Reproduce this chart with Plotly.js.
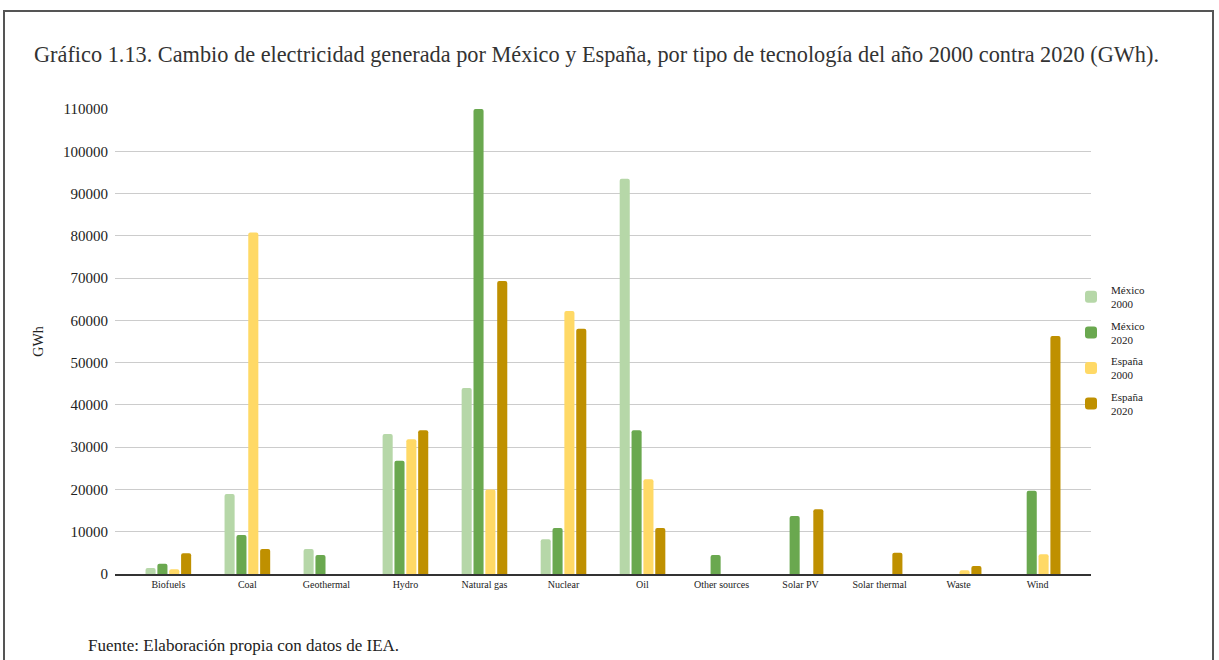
<!DOCTYPE html>
<html>
<head>
<meta charset="utf-8">
<script src="https://cdn.plot.ly/plotly-3.0.1.min.js"></script>
<style>
  html, body { margin: 0; padding: 0; background: #fff; }
  #chart { width: 1219px; height: 660px; }
  #frame { position: absolute; left: 3px; top: 10px; width: 1207px; height: 700px;
           border: 2px solid #555; pointer-events: none; }
</style>
</head>
<body>
<div id="chart"></div>
<div id="frame"></div>
<script>
const categories = ["Biofuels", "Coal", "Geothermal", "Hydro", "Natural gas", "Nuclear",
                    "Oil", "Other sources", "Solar PV", "Solar thermal", "Waste", "Wind"];
const seriesNames = ["México<br>2000", "México<br>2020", "España<br>2000", "España<br>2020"];
const mexico2000 = [1400, 18900, 5900, 33100, 44000, 8200, 93500, null, null, null, null, null];
const mexico2020 = [2400, 9200, 4500, 26800, 110000, 10900, 34000, 4500, 13700, null, null, 19700];
const espana2000 = [1100, 80800, null, 31900, 20000, 62200, 22400, null, null, null, 900, 4700];
const espana2020 = [4900, 5900, null, 34000, 69300, 58000, 10900, null, 15300, 5000, 1900, 56300];
const colors = ["#b6d7a8", "#6aa84f", "#ffd966", "#bf9000"];
const yTicks = [0, 10000, 20000, 30000, 40000, 50000, 60000, 70000, 80000, 90000, 100000, 110000];

const serif = "'Liberation Serif', 'Times New Roman', serif";
const allSeries = [mexico2000, mexico2020, espana2000, espana2020];

const traces = allSeries.map((vals, i) => ({
  type: "bar",
  name: seriesNames[i],
  legendgroup: "g" + i,
  x: categories,
  y: vals,
  marker: { color: colors[i], cornerradius: 2 },
  hoverinfo: "x+y+name"
}));

const layout = {
  width: 1219,
  height: 660,
  paper_bgcolor: "#fff",
  plot_bgcolor: "#fff",
  margin: { l: 115, r: 128, t: 109, b: 86 },
  barmode: "group",
  bargap: 0.4,
  bargroupgap: 0.15,
  title: {
    text: "Gráfico 1.13. Cambio de electricidad generada por México y España, por tipo de tecnología del año 2000 contra 2020 (GWh).",
    font: { family: serif, size: 22.3, color: "#333" },
    x: 34 / 1219, xanchor: "left", xref: "container",
    y: 1 - 54 / 660, yanchor: "middle", yref: "container"
  },
  font: { family: serif, color: "#222" },
  xaxis: {
    type: "category",
    range: [-0.675, 11.675],
    showgrid: false,
    showline: true,
    linecolor: "#333",
    linewidth: 1.5,
    ticks: "",
    tickfont: { family: serif, size: 10, color: "#222" },
    fixedrange: true
  },
  yaxis: {
    range: [0, 110000],
    tickvals: yTicks,
    ticktext: yTicks.map(String),
    showgrid: true,
    gridcolor: "#cccccc",
    gridwidth: 1,
    zeroline: false,
    showline: false,
    ticks: "",
    ticklabelstandoff: 6,
    tickfont: { family: serif, size: 15, color: "#222" },
    title: { text: "GWh", font: { family: serif, size: 14, color: "#222" }, standoff: 16 },
    fixedrange: true
  },
  legend: {
    x: 1.0 + (1071 - 1091) / 976, xanchor: "left",
    y: 1 - (276 - 109) / 465, yanchor: "top",
    traceorder: "grouped",
    tracegroupgap: 4,
    font: { family: serif, size: 11, color: "#222" },
    bgcolor: "rgba(0,0,0,0)",
    itemclick: false, itemdoubleclick: false
  },
  annotations: [{
    text: "Fuente: Elaboración propia con datos de IEA.",
    xref: "paper", yref: "paper",
    x: (86 - 115) / 976, xanchor: "left",
    y: (574 - 645) / 465, yanchor: "middle",
    showarrow: false,
    font: { family: serif, size: 17, color: "#222" }
  }]
};

Plotly.newPlot("chart", traces, layout, { displayModeBar: false, responsive: false });
</script>
</body>
</html>
